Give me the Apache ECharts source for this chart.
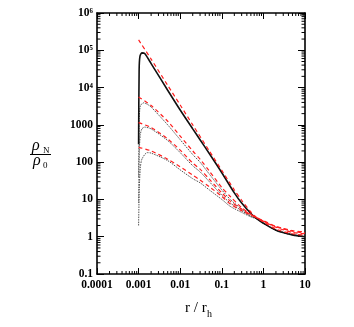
<!DOCTYPE html>
<html>
<head>
<meta charset="utf-8">
<script src="https://cdn.jsdelivr.net/npm/echarts@6/dist/echarts.min.js"></script>
<style>
  html, body { margin: 0; padding: 0; background: #fff; }
  #chart { width: 354px; height: 327px; }
</style>
</head>
<body>
<div id="chart"></div>
<script>
// radius r/r_h, density rho_N/rho_0
const curveA = [[0.001, 300], [0.00103, 3e4], [0.00108, 7e4], [0.0012, 8.5e4], [0.0014, 8.2e4], [0.002, 4.4e4], [0.005, 8500], [0.01, 2500], [0.02, 780], [0.03, 400], [0.05, 170], [0.1, 52], [0.2, 15], [0.3, 8], [0.5, 4.2], [0.7, 3], [1, 2.3], [2, 1.5], [5, 1.12], [10, 1.0]];
const curveB = [[0.001, 40], [0.00104, 1500], [0.0011, 3200], [0.0013, 3900], [0.0016, 3600], [0.002, 3000], [0.005, 1000], [0.01, 400], [0.02, 160], [0.03, 100], [0.05, 48], [0.1, 18], [0.16, 10], [0.3, 5.5], [0.5, 3.6], [0.7, 3], [1, 2.3], [2, 1.5], [5, 1.12], [10, 1.0]];
const curveC = [[0.001, 8], [0.00104, 200], [0.0011, 550], [0.0012, 780], [0.0014, 870], [0.002, 780], [0.005, 380], [0.01, 180], [0.02, 80], [0.03, 55], [0.05, 30], [0.1, 13], [0.16, 8], [0.3, 5], [0.5, 3.5], [0.7, 3], [1, 2.3], [2, 1.5], [5, 1.12], [10, 1.0]];
const curveD = [[0.001, 2], [0.00104, 20], [0.0011, 70], [0.0012, 120], [0.0016, 180], [0.002, 175], [0.005, 110], [0.01, 62], [0.02, 36], [0.03, 28], [0.05, 18], [0.1, 10], [0.16, 6.5], [0.3, 4.5], [0.5, 3.4], [0.7, 3], [1, 2.3], [2, 1.5], [5, 1.12], [10, 1.0]];

const fitA = [[0.001, 1.9e5], [0.002, 5.8e4], [0.005, 1.15e4], [0.01, 3400], [0.02, 1000], [0.05, 200], [0.1, 60], [0.2, 18], [0.3, 9.5], [0.5, 4.6], [0.7, 3.2], [1, 2.5], [2, 1.6], [5, 1.2], [10, 1.1]];
const fitB = [[0.001, 5600], [0.002, 3300], [0.005, 1250], [0.01, 500], [0.02, 200], [0.03, 120], [0.05, 58], [0.1, 21], [0.16, 12], [0.3, 6], [0.5, 4], [0.7, 3.2], [1, 2.6], [2, 1.8], [5, 1.3], [10, 1.2]];
const fitC = [[0.001, 1150], [0.002, 850], [0.005, 420], [0.01, 210], [0.02, 95], [0.03, 65], [0.05, 35], [0.1, 15], [0.16, 9], [0.3, 5.5], [0.5, 3.9], [0.7, 3.2], [1, 2.6], [2, 1.85], [5, 1.4], [10, 1.25]];
const fitD = [[0.001, 250], [0.002, 200], [0.005, 120], [0.01, 75], [0.02, 45], [0.03, 33], [0.05, 22], [0.1, 12], [0.16, 7.5], [0.3, 5], [0.5, 3.8], [0.7, 3.2], [1, 2.7], [2, 1.9], [5, 1.45], [10, 1.35]];

const xTickLabels = ['0.0001', '0.001', '0.01', '0.1', '1', '10'];
const yTickLabels = ['0.1', '1', '10', '100', '1000', '10⁴', '10⁵', '10⁶'];
const xDecades = [0.0001, 0.001, 0.01, 0.1, 1];
const yDecades = [0.1, 1, 10, 100, 1000, 1e4, 1e5];
const minorSteps = [2, 3, 4, 5, 6, 7, 8, 9];

const FONT = '"Liberation Serif", "Times New Roman", serif';

// minor ticks (log spaced), drawn by a custom series
const minorData = [];
xDecades.forEach(d => minorSteps.forEach(m => minorData.push([d * m, 1, 0])));
yDecades.forEach(d => minorSteps.forEach(m => minorData.push([1, d * m, 1])));

const chart = echarts.init(document.getElementById('chart'));

function logAxis(extra) {
  return Object.assign({
    type: 'log',
    logBase: 10,
    axisLine: { show: true, lineStyle: { color: '#000', width: 1.6 } },
    axisTick: { show: true, inside: true, lineStyle: { color: '#000', width: 1 } },
    splitLine: { show: false },
    minorTick: { show: false }
  }, extra);
}

const xMin = 0.0001, xMax = 10, yMin = 0.1, yMax = 1e6;

function curve(name, data, color, width, type) {
  return {
    name: name,
    type: 'line',
    data: data,
    showSymbol: false,
    smooth: 0.25,
    lineStyle: { color: color, width: width, type: type },
    animation: false
  };
}

chart.setOption({
  animation: false,
  backgroundColor: '#fff',
  grid: { left: 97, right: 49, top: 13, bottom: 53 },
  xAxis: [
    logAxis({
      min: xMin, max: xMax, position: 'bottom',
      axisTick: { show: true, inside: true, length: 6, lineStyle: { color: '#000', width: 1 } },
      axisLabel: {
        margin: 5, color: '#000', fontFamily: FONT, fontWeight: 'bold', fontSize: 11.5,
        formatter: v => xTickLabels[Math.round(Math.log10(v)) + 4]
      }
    }),
    logAxis({
      min: xMin, max: xMax, position: 'top',
      axisTick: { show: true, inside: true, length: 6, lineStyle: { color: '#000', width: 1 } },
      axisLabel: { show: false }
    })
  ],
  yAxis: [
    logAxis({
      min: yMin, max: yMax, position: 'left',
      axisTick: { show: true, inside: true, length: 7, lineStyle: { color: '#000', width: 1 } },
      axisLabel: {
        margin: 4, color: '#000', fontFamily: FONT, fontWeight: 'bold', fontSize: 11.5,
        formatter: v => yTickLabels[Math.round(Math.log10(v)) + 1]
      }
    }),
    logAxis({
      min: yMin, max: yMax, position: 'right',
      axisTick: { show: true, inside: true, length: 7, lineStyle: { color: '#000', width: 1 } },
      axisLabel: { show: false }
    })
  ],
  series: [
    {
      type: 'custom',
      data: minorData,
      silent: true,
      clip: false,
      renderItem: function (params, api) {
        const kind = api.value(2);
        let segs;
        if (kind === 0) {
          const v = api.value(0);
          const b = api.coord([v, yMin]);
          const t = api.coord([v, yMax]);
          segs = [[b[0], b[1], b[0], b[1] - 3], [t[0], t[1], t[0], t[1] + 3]];
        } else {
          const v = api.value(1);
          const l = api.coord([xMin, v]);
          const r = api.coord([xMax, v]);
          segs = [[l[0], l[1], l[0] + 3.5, l[1]], [r[0], r[1], r[0] - 3.5, r[1]]];
        }
        return {
          type: 'group',
          children: segs.map(s => ({
            type: 'line',
            shape: { x1: s[0], y1: s[1], x2: s[2], y2: s[3] },
            style: { stroke: '#000', lineWidth: 1 }
          }))
        };
      }
    },
    curve('D', curveD, '#555', 1, [1.5, 1]),
    curve('C', curveC, '#555', 1, [1.5, 1]),
    curve('B', curveB, '#555', 1, [1.5, 1]),
    curve('A', curveA, '#111', 1.6, 'solid'),
    curve('fit D', fitD, '#ff1f1f', 1.2, [4, 3]),
    curve('fit C', fitC, '#ff1f1f', 1.2, [4, 3]),
    curve('fit B', fitB, '#ff1f1f', 1.2, [4, 3]),
    curve('fit A', fitA, '#ff1f1f', 1.2, [4, 3])
  ],
  graphic: [
    { type: 'text', left: 32, top: 138, style: { text: 'ρ', font: 'italic 16px ' + FONT, fill: '#000' } },
    { type: 'text', left: 43, top: 146, style: { text: 'N', font: '9px ' + FONT, fill: '#000' } },
    { type: 'line', shape: { x1: 30, y1: 154.5, x2: 51, y2: 154.5 }, style: { stroke: '#000', lineWidth: 1 } },
    { type: 'text', left: 33, top: 153, style: { text: 'ρ', font: 'italic 16px ' + FONT, fill: '#000' } },
    { type: 'text', left: 43, top: 161, style: { text: '0', font: '9px ' + FONT, fill: '#000' } },
    { type: 'text', left: 185, top: 301, style: { text: 'r / r', font: '15px ' + FONT, fill: '#000' } },
    { type: 'text', left: 207, top: 309, style: { text: 'h', font: '10px ' + FONT, fill: '#000' } }
  ]
});
</script>
</body>
</html>
